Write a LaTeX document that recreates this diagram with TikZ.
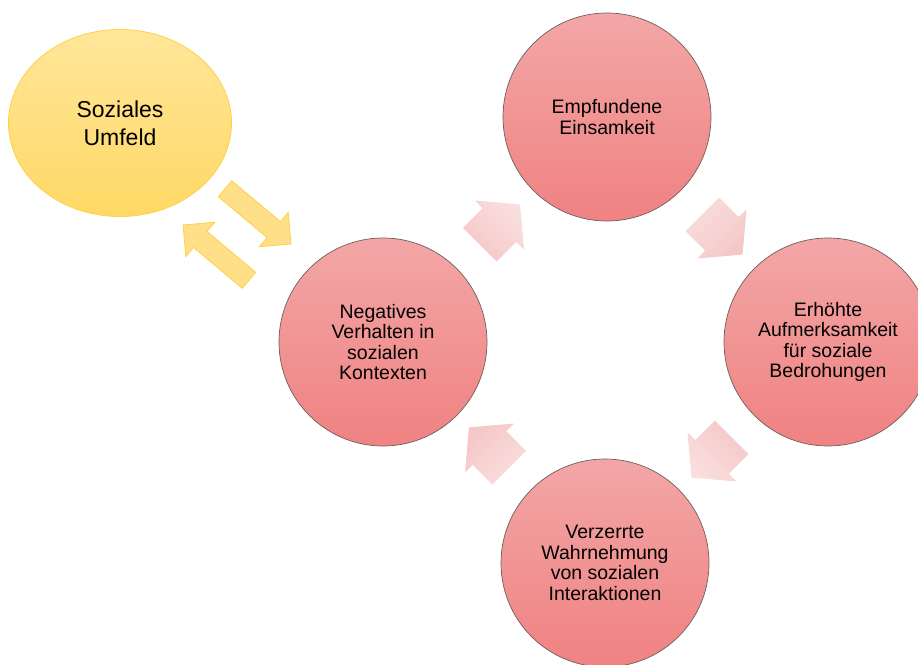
\documentclass[tikz,border=0pt]{standalone}
\usepackage{fontspec}
\setmainfont{Liberation Sans}
\usetikzlibrary{positioning,shapes.geometric,shapes.arrows,calc}
\definecolor{circTop}{HTML}{F3A6A6}
\definecolor{circBot}{HTML}{F08282}
\definecolor{circLine}{HTML}{6E5E5E}
\definecolor{cycTop}{HTML}{F9DEDE}
\definecolor{cycBot}{HTML}{F5C7C7}
\definecolor{envTop}{HTML}{FFE699}
\definecolor{envBot}{HTML}{FFD966}
\definecolor{envLine}{HTML}{FFD044}
\definecolor{envArrow}{HTML}{FFDF88}

\begin{document}
\begin{tikzpicture}[
  x=1pt, y=-1pt,
  %% Node styles
  stage/.style={
    circle, draw=circLine, line width=0.7pt,
    top color=circTop, bottom color=circBot,
    minimum size=208pt, inner sep=0pt, align=center,
    font=\fontsize{19.5}{20.5}\selectfont
  },
  envnode/.style={
    ellipse, draw=envLine, line width=0.8pt,
    top color=envTop, bottom color=envBot,
    minimum width=223pt, minimum height=187pt, inner sep=0pt,
    align=center, font=\fontsize{23}{28}\selectfont
  },
  %% Arrow styles
  cyclearrow/.style={
    single arrow, draw=none,
    top color=cycTop, bottom color=cycBot,
    minimum height=57pt, inner xsep=0pt, inner ysep=23.5pt,
    single arrow head extend=11pt, single arrow tip angle=100,
    rotate=#1, xshift=-3pt, shading angle=-#1
  },
  envarrow/.style={
    single arrow, draw=envLine, line width=0.8pt, fill=envArrow,
    minimum height=86pt, inner xsep=0pt, inner ysep=10pt,
    single arrow head extend=12pt, single arrow tip angle=90,
    rotate=#1
  },
]
\path[use as bounding box, clip] (0,0) rectangle (918,664);

%% ── Social environment ─────────────────────────────────────────────────────
\node[envnode] (umfeld) at (120,123) {Soziales\\Umfeld};

%% ── Cycle stages ───────────────────────────────────────────────────────────
\node[stage] (verhalten)      at (383,342) {Negatives\\Verhalten in\\sozialen\\Kontexten};
\node[stage] (einsamkeit)     at (607,117) {Empfundene\\Einsamkeit};
\node[stage] (aufmerksamkeit) at (828,342) {Erhöhte\\Aufmerksamkeit\\für soziale\\Bedrohungen};
\node[stage] (wahrnehmung)    at (605,563) {Verzerrte\\Wahrnehmung\\von sozialen\\Interaktionen};

%% ── Cycle arrows ───────────────────────────────────────────────────────────
\node[cyclearrow=45]   (c1) at ($(verhalten)!0.5!(einsamkeit)$) {};
\node[cyclearrow=-45]  (c2) at ($(einsamkeit)!0.5!(aufmerksamkeit)$) {};
\node[cyclearrow=-135] (c3) at ($(aufmerksamkeit)!0.5!(wahrnehmung)$) {};
\node[cyclearrow=135]  (c4) at ($(wahrnehmung)!0.5!(verhalten)$) {};

%% ── Exchange with the environment ──────────────────────────────────────────
\node[envarrow=-40] (e1) at (254,213) {};
\node[envarrow=140] (e2) at (220,256) {};

\end{tikzpicture}
\end{document}
